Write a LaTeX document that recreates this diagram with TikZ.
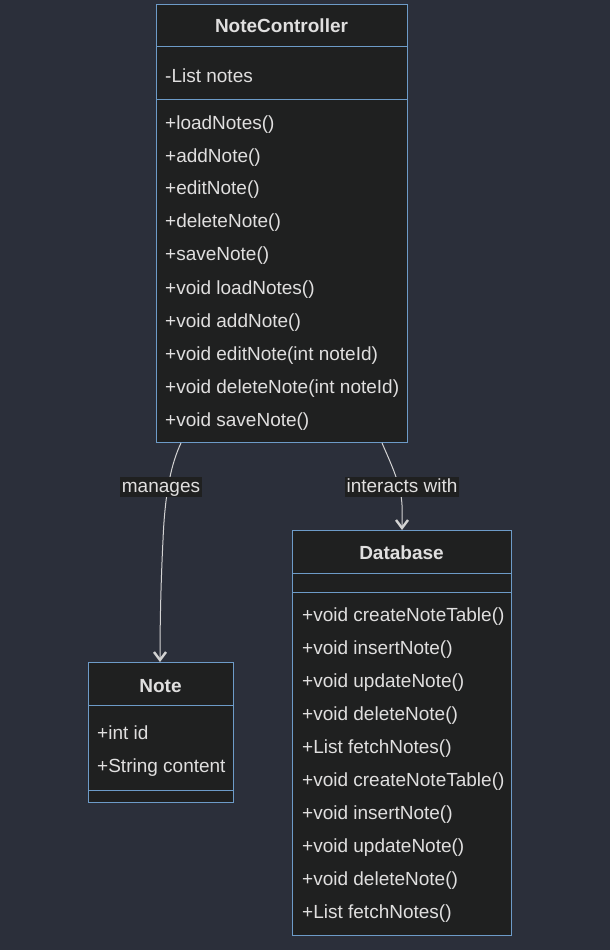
\documentclass[tikz,border=0pt]{standalone}
\usepackage{fontspec}
\setmainfont{Liberation Sans}
\usetikzlibrary{arrows.meta}
\definecolor{canvas}{HTML}{2B2F3A}
\definecolor{boxfill}{HTML}{1F2020}
\definecolor{boxline}{HTML}{6D9BC8}
\definecolor{txt}{HTML}{E0DFDF}
\definecolor{wire}{HTML}{D3D3D3}
\begin{document}
\begin{tikzpicture}[x=1pt,y=-1pt,
  classbox/.style={draw=boxline,fill=boxfill,line width=1pt,anchor=north west,inner sep=0pt},
  divider/.style={draw=boxline,line width=1pt},
  title/.style={text=txt,font=\fontsize{19}{22}\selectfont\bfseries,inner sep=0pt,text height=14pt,text depth=4pt,yshift=-2pt},
  member/.style={text=txt,font=\fontsize{19}{22}\selectfont,anchor=west,inner sep=0pt,text height=14pt,text depth=4pt,yshift=-2pt},
  edgelabel/.style={text=txt,font=\fontsize{19}{22}\selectfont,fill=boxfill,inner xsep=1.5pt,inner ysep=1pt,text height=14pt,text depth=4pt},
  relation/.style={draw=wire,line width=1pt,-{Straight Barb[length=8pt,width=12pt,line width=2.4pt]}}]

% page
\fill[canvas] (0,0) rectangle (610,950);
\useasboundingbox (0,0) rectangle (610,950);

% ---------- NoteController ----------
\node[classbox,minimum width=251pt,minimum height=438pt] (nc) at (156,4) {};
\draw[divider] (156,47) -- (407,47);
\draw[divider] (156,99) -- (407,99);
\node[title] (ncT) at (281.5,26) {NoteController};
\node[member] (ncA1) at (165,75) {-List notes};
\node[member] (ncM1) at (165,122) {+loadNotes()};
\node[member] (ncM2) at (165,155) {+addNote()};
\node[member] (ncM3) at (165,187) {+editNote()};
\node[member] (ncM4) at (165,220) {+deleteNote()};
\node[member] (ncM5) at (165,253) {+saveNote()};
\node[member] (ncM6) at (165,287) {+void loadNotes()};
\node[member] (ncM7) at (165,320) {+void addNote()};
\node[member] (ncM8) at (165,353) {+void editNote(int noteId)};
\node[member] (ncM9) at (165,386) {+void deleteNote(int noteId)};
\node[member] (ncM10) at (165,419) {+void saveNote()};

% ---------- Database ----------
\node[classbox,minimum width=219pt,minimum height=405pt] (db) at (292,530) {};
\draw[divider] (292,573) -- (511,573);
\draw[divider] (292,592) -- (511,592);
\node[title] (dbT) at (401.5,552) {Database};
\node[member] (dbM1) at (302,614) {+void createNoteTable()};
\node[member] (dbM2) at (302,647) {+void insertNote()};
\node[member] (dbM3) at (302,680) {+void updateNote()};
\node[member] (dbM4) at (302,713) {+void deleteNote()};
\node[member] (dbM5) at (302,746) {+List fetchNotes()};
\node[member] (dbM6) at (302,779) {+void createNoteTable()};
\node[member] (dbM7) at (302,812) {+void insertNote()};
\node[member] (dbM8) at (302,845) {+void updateNote()};
\node[member] (dbM9) at (302,878) {+void deleteNote()};
\node[member] (dbM10) at (302,911) {+List fetchNotes()};

% ---------- Note ----------
\node[classbox,minimum width=145pt,minimum height=140pt] (nt) at (88,662) {};
\draw[divider] (88,705) -- (233,705);
\draw[divider] (88,790) -- (233,790);
\node[title] (ntT) at (160.5,685) {Note};
\node[member] (ntA1) at (97,732) {+int id};
\node[member] (ntA2) at (97,765) {+String content};

% ---------- relations ----------
\coordinate (mgStart) at ([xshift=25pt]nc.south west);
\coordinate (mgEnd) at ([xshift=72pt]nt.north west);
\coordinate (ixStart) at ([xshift=-26pt]nc.south east);
\coordinate (ixEnd) at ([xshift=110pt]db.north west);

\draw[relation] (mgStart) .. controls (172,462) and (165,490) .. (163,540)
  .. controls (161,580) and (160,620) .. (mgEnd);
\draw[relation] (ixStart) .. controls (392,466) and (401,485) .. (402,505)
  .. controls (402,515) and (402,522) .. (ixEnd);

\node[edgelabel] (lblManages) at (161,487) {manages};
\node[edgelabel] (lblInteracts) at (402,487) {interacts with};
\end{tikzpicture}
\end{document}
